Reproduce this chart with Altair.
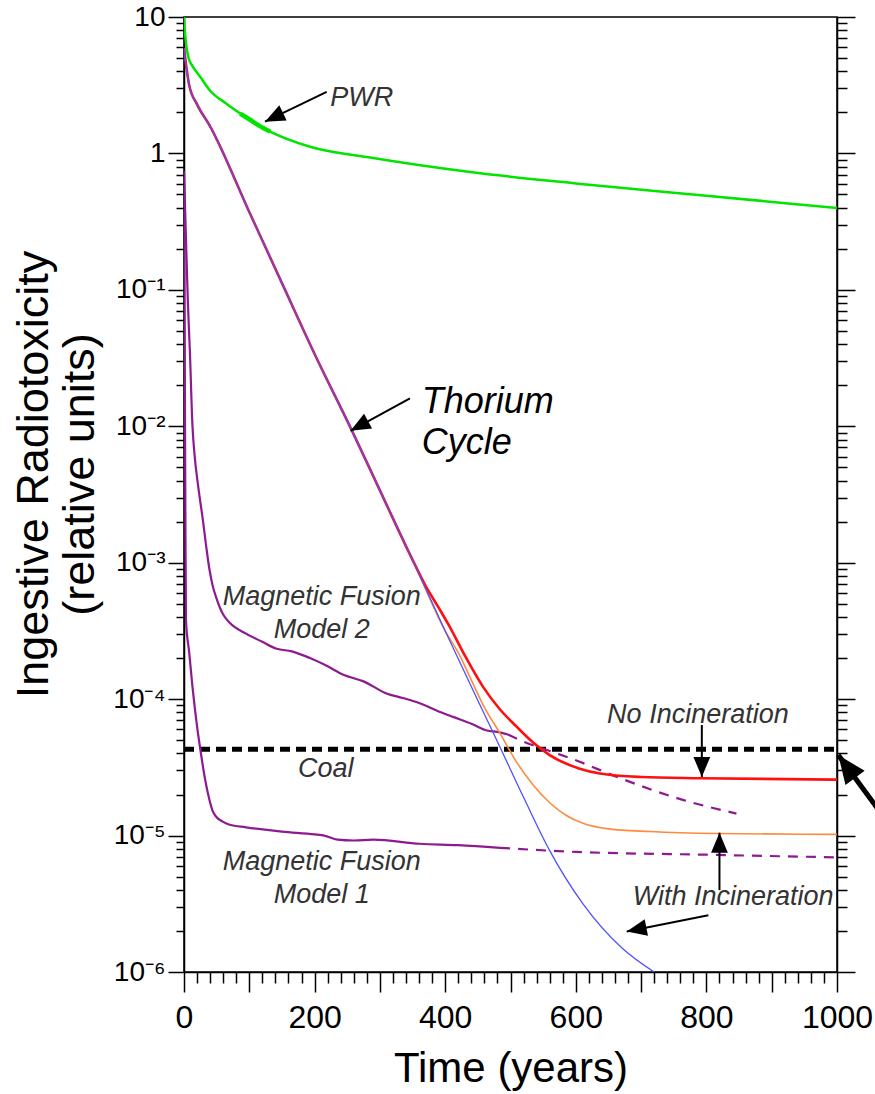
import math
import altair as alt
import pandas as pd

# ---------------- data ----------------
# PWR spent fuel
pwr_t = [0, 1, 3, 7, 13, 25, 39, 64, 90, 132, 193, 285, 438, 600, 800, 1000]
pwr_v = [10, 8.3, 6.46, 5.0, 4.37, 3.63, 2.92, 2.33, 1.905, 1.445, 1.12, 0.933, 0.731, 0.603, 0.49, 0.398]
# slightly heavier PWR segment near the arrow
pwrb_t = [86, 100, 115, 132]
pwrb_v = [1.96, 1.78, 1.6, 1.445]

# Thorium cycle trunk / continuation (blue)
th_t = [0, 4, 8, 20, 40, 100, 150, 200, 257, 300, 350, 400, 450, 473, 522, 560, 611, 672, 720]
th_v = [5.9, 4.17, 3.16, 2.29, 1.58, 0.372, 0.112, 0.0339, 0.00933, 0.00339, 0.00105, 3.16e-4,
        9.77e-5, 5.75e-5, 1.82e-5, 7.76e-6, 3.16e-6, 1.48e-6, 1.0e-6]

# No incineration (red)
noinc_t = [0, 4, 8, 20, 40, 100, 150, 200, 257, 300, 350, 370, 390, 407, 430, 458, 483, 509, 535,
           560, 606, 637, 700, 790, 1000]
noinc_v = [5.9, 4.17, 3.16, 2.29, 1.58, 0.372, 0.112, 0.0339, 0.00933, 0.00339, 0.00105, 6.76e-4,
           4.68e-4, 3.39e-4, 2.09e-4, 1.23e-4, 8.5e-5, 6.31e-5, 4.79e-5, 3.89e-5, 3.09e-5, 2.85e-5,
           2.69e-5, 2.63e-5, 2.57e-5]

# With incineration (orange)
inc_t = [0, 4, 8, 20, 40, 100, 150, 200, 257, 300, 350, 400, 420, 440, 460, 484, 509, 535, 560,
         585, 611, 650, 714, 816, 1000]
inc_v = [5.9, 4.17, 3.16, 2.29, 1.58, 0.372, 0.112, 0.0339, 0.00933, 0.00339, 0.00105, 3.16e-4,
         2.19e-4, 1.38e-4, 8.7e-5, 5.62e-5, 3.47e-5, 2.34e-5, 1.74e-5, 1.41e-5, 1.23e-5, 1.12e-5,
         1.07e-5, 1.035e-5, 1.02e-5]

# Magnetic fusion model 2 (solid, then dashed)
mf2_t = [0, 3, 6, 9, 13, 16, 22, 29, 34, 39, 44, 49, 55, 60, 70, 95, 120, 142, 165, 193, 220, 244,
         275, 310, 335, 361, 390, 412, 440, 464, 480, 496]
mf2_v = [0.741, 0.24, 0.0794, 0.0355, 0.01, 6.31e-3, 3.55e-3, 2.04e-3, 1.32e-3, 8.91e-4, 6.76e-4,
         5.62e-4, 4.68e-4, 4.17e-4, 3.63e-4, 3.02e-4, 2.63e-4, 2.34e-4, 2.24e-4, 2.0e-4, 1.74e-4,
         1.51e-4, 1.35e-4, 1.10e-4, 1.02e-4, 9.33e-5, 8.13e-5, 7.41e-5, 6.61e-5, 5.89e-5, 5.75e-5, 5.5e-5]
mf2d_t = [496, 519, 560, 601, 663, 765, 846]
mf2d_v = [5.5e-5, 4.9e-5, 4.17e-5, 3.55e-5, 2.69e-5, 1.82e-5, 1.45e-5]

# Magnetic fusion model 1 (solid, then dashed)
mf1_t = [0, 1, 2, 3, 8, 13, 20, 26, 32, 39, 44, 49, 60, 70, 95, 150, 200, 215, 235, 260, 290, 361,
         420, 484]
mf1_v = [0.741, 0.0501, 3.16e-3, 3.8e-4, 2.19e-4, 1.23e-4, 6.31e-5, 3.98e-5, 2.63e-5, 1.82e-5,
         1.51e-5, 1.38e-5, 1.26e-5, 1.2e-5, 1.15e-5, 1.07e-5, 1.02e-5, 1.0e-5, 9.33e-6, 9.2e-6,
         9.33e-6, 8.71e-6, 8.51e-6, 8.13e-6]
mf1d_t = [484, 600, 800, 1000]
mf1d_v = [8.13e-6, 7.59e-6, 7.24e-6, 6.92e-6]

# Coal reference level
coal_t = [0, 1000]
coal_v = [4.3e-5, 4.3e-5]

# Annotation texts
lab_text = ["PWR", "Magnetic Fusion", "Model 2", "Coal", "No Incineration",
            "Magnetic Fusion", "Model 1", "With Incineration"]
lab_t = [224, 211, 211, 217, 787, 211, 211, 841]
lab_v = [2.226, 4.89e-4, 2.83e-4, 2.69e-5, 6.70e-5, 5.57e-6, 3.19e-6, 3.09e-6]
lab_align = ["left", "center", "center", "center", "center", "center", "center", "center"]

th_text = ["Thorium", "Cycle"]
th_lt = [364, 364]
th_lv = [0.0125, 0.00625]

# Arrows (tail -> tip)
arr_t0 = [218.5, 346, 793, 820, 803]
arr_v0 = [2.83, 0.016, 6.46e-5, 3.98e-6, 2.61e-6]
arr_t1 = [124, 255, 793, 820, 678]
arr_v1 = [1.71, 0.00927, 2.69e-5, 1.05e-5, 1.98e-6]

coal_arr_t0 = [1100]
coal_arr_v0 = [8.95e-6]
coal_arr_t1 = [1002]
coal_arr_v1 = [3.89e-5]

# axis tick values
x_major = list(range(0, 1001, 100))
x_minor = [v for v in range(0, 1001, 20) if v % 100 != 0]
y_major = [1e-6, 1e-5, 1e-4, 1e-3, 1e-2, 1e-1, 1, 10]
y_minor = [k * 10.0 ** e for e in range(-6, 1) for k in range(2, 10)]
y_all = sorted(y_major + y_minor)

# ---------------- chart ----------------
W, H = 653, 955
xs = alt.Scale(domain=[0, 1000], nice=False, zero=False)
ys = alt.Scale(type="log", domain=[1e-6, 10], nice=False)
FONT = "Liberation Sans"


def line(t, v, color, width, dash=None, interp="monotone"):
    df = pd.DataFrame({"t": t, "v": v})
    kw = dict(color=color, strokeWidth=width, clip=True, strokeCap="butt", interpolate=interp)
    if dash:
        kw["strokeDash"] = dash
    return alt.Chart(df).mark_line(**kw).encode(
        x=alt.X("t:Q", scale=xs, axis=None),
        y=alt.Y("v:Q", scale=ys, axis=None),
    )


def arrow_df(t0, v0, t1, v1):
    df = pd.DataFrame({"t0": t0, "v0": v0, "t1": t1, "v1": v1})
    ang = []
    for a, b, c, d in zip(t0, v0, t1, v1):
        dx = (c - a) * W / 1000.0
        dy = -(math.log10(d) - math.log10(b)) * H / 7.0
        ang.append(math.degrees(math.atan2(dx, -dy)) % 360)
    df["ang"] = ang
    return df


HEAD = "M0,0L-0.42,1L0.42,1Z"


def arrows(df, width, size):
    shaft = alt.Chart(df).mark_rule(color="black", strokeWidth=width, clip=False).encode(
        x=alt.X("t0:Q", scale=xs, axis=None), y=alt.Y("v0:Q", scale=ys, axis=None),
        x2="t1:Q", y2="v1:Q")
    head = alt.Chart(df).mark_point(shape=HEAD, filled=True, color="black", opacity=1,
                                    size=size, clip=False, strokeWidth=0).encode(
        x=alt.X("t1:Q", scale=xs, axis=None), y=alt.Y("v1:Q", scale=ys, axis=None),
        angle=alt.Angle("ang:Q", scale=None))
    return shaft + head


axis_df = pd.DataFrame({"t": pwr_t, "v": pwr_v})
SUP = "['','¹','²','³','⁴','⁵','⁶']"
EXP = "round(log(datum.value)/LN10)"
y_label_expr = f"{EXP} == 1 ? '10' : {EXP} == 0 ? '1' : '10⁻' + {SUP}[-{EXP}]"

axes_main = alt.Chart(axis_df).mark_point(opacity=0).encode(
    x=alt.X("t:Q", scale=xs, axis=alt.Axis(
        orient="bottom", values=x_major, format="d", tickSize=20, tickWidth=1.5,
        tickColor="black", domainColor="black", domainWidth=1.5, grid=False,
        labelExpr="datum.value % 200 == 0 ? datum.label : ''",
        labelFont=FONT, labelFontSize=32, labelColor="black", labelPadding=10,
        labelOverlap=False, labelBound=False, labelFlush=False,
        title="Time (years)", titleFont=FONT, titleFontSize=42, titleFontWeight="normal",
        titleColor="black", titleY=109, titleBaseline="alphabetic")),
    y=alt.Y("v:Q", scale=ys, axis=alt.Axis(
        orient="left", values=y_major, tickSize=16, tickWidth=1.5, tickColor="black",
        domainColor="black", domainWidth=1.5, grid=False,
        labelExpr=y_label_expr, labelFont=FONT, labelFontSize=28, labelColor="black",
        labelPadding=3, labelOverlap=False, labelBound=False, labelFlush=False,
        title=["Ingestive Radiotoxicity", "(relative units)"], titleFont=FONT,
        titleFontSize=45, titleFontWeight="normal", titleColor="black",
        titleAngle=-90, titleX=-173, titleY=457, titleBaseline="top",
        titleAlign="center", titleLineHeight=46)),
)

axes_minor = alt.Chart(axis_df).mark_point(opacity=0).encode(
    x=alt.X("t:Q", scale=xs, axis=alt.Axis(
        orient="bottom", values=x_minor, tickSize=11, tickWidth=1.5, tickColor="black",
        domain=False, labels=False, grid=False, title=None)),
    y=alt.Y("v:Q", scale=ys, axis=alt.Axis(
        orient="left", values=y_minor, tickSize=8, tickWidth=1.5, tickColor="black",
        domain=False, labels=False, grid=False, title=None)),
)

axes_right = alt.Chart(axis_df).mark_point(opacity=0).encode(
    x=alt.X("t:Q", scale=xs, axis=None),
    y=alt.Y("v:Q", scale=ys, axis=alt.Axis(
        orient="right", values=y_all,
        tickSize={"condition": {"test": f"abs(log(datum.value)/LN10 - {EXP}) < 1e-6", "value": 18},
                  "value": 10},
        tickWidth=1.5, tickColor="black", domainColor="black", domainWidth=1.5,
        labels=False, grid=False, title=None)),
)

lab_df = pd.DataFrame({"t": lab_t, "v": lab_v, "text": lab_text, "al": lab_align})
labels_left = alt.Chart(lab_df[lab_df.al == "left"]).mark_text(
    font=FONT, fontSize=27, fontStyle="italic", color="#333333", align="left",
    baseline="alphabetic").encode(
    x=alt.X("t:Q", scale=xs, axis=None), y=alt.Y("v:Q", scale=ys, axis=None), text="text:N")
labels_center = alt.Chart(lab_df[lab_df.al == "center"]).mark_text(
    font=FONT, fontSize=27, fontStyle="italic", color="#333333", align="center",
    baseline="alphabetic").encode(
    x=alt.X("t:Q", scale=xs, axis=None), y=alt.Y("v:Q", scale=ys, axis=None), text="text:N")
th_df = pd.DataFrame({"t": th_lt, "v": th_lv, "text": th_text})
labels_th = alt.Chart(th_df).mark_text(
    font=FONT, fontSize=36, fontStyle="italic", color="black", align="left",
    baseline="alphabetic").encode(
    x=alt.X("t:Q", scale=xs, axis=None), y=alt.Y("v:Q", scale=ys, axis=None), text="text:N")

PURPLE = "#8e1a92"
layers = [
    axes_main, axes_minor, axes_right,
    line(coal_t, coal_v, "black", 5, [10, 6], "linear"),
    line(pwr_t, pwr_v, "#00e400", 2.5),
    line(pwrb_t, pwrb_v, "#00e400", 4.5),
    line(mf2_t, mf2_v, PURPLE, 2.2),
    line(mf2d_t, mf2d_v, PURPLE, 2.2, [10, 8]),
    line(mf1_t, mf1_v, PURPLE, 2.2),
    line(mf1d_t, mf1d_v, PURPLE, 2.2, [10, 8]),
    line(inc_t, inc_v, "#ff8a3c", 1.6),
    line(noinc_t, noinc_v, "#ff1010", 2.6),
    line(th_t, th_v, "#5050ff", 1.3),
    arrows(arrow_df(arr_t0, arr_v0, arr_t1, arr_v1), 2, 1600),
    arrows(arrow_df(coal_arr_t0, coal_arr_v0, coal_arr_t1, coal_arr_v1), 5, 3200),
    labels_left, labels_center, labels_th,
]

chart = alt.layer(*layers).resolve_axis(x="independent", y="independent").properties(
    width=W, height=H,
    padding={"left": 184, "top": 17, "right": 38, "bottom": 122},
    autosize=alt.AutoSizeParams(type="none"),
    background="white",
).configure_view(stroke="black", strokeWidth=1.5)

chart.save("out.html", embed_options={"renderer": "svg", "actions": False})
